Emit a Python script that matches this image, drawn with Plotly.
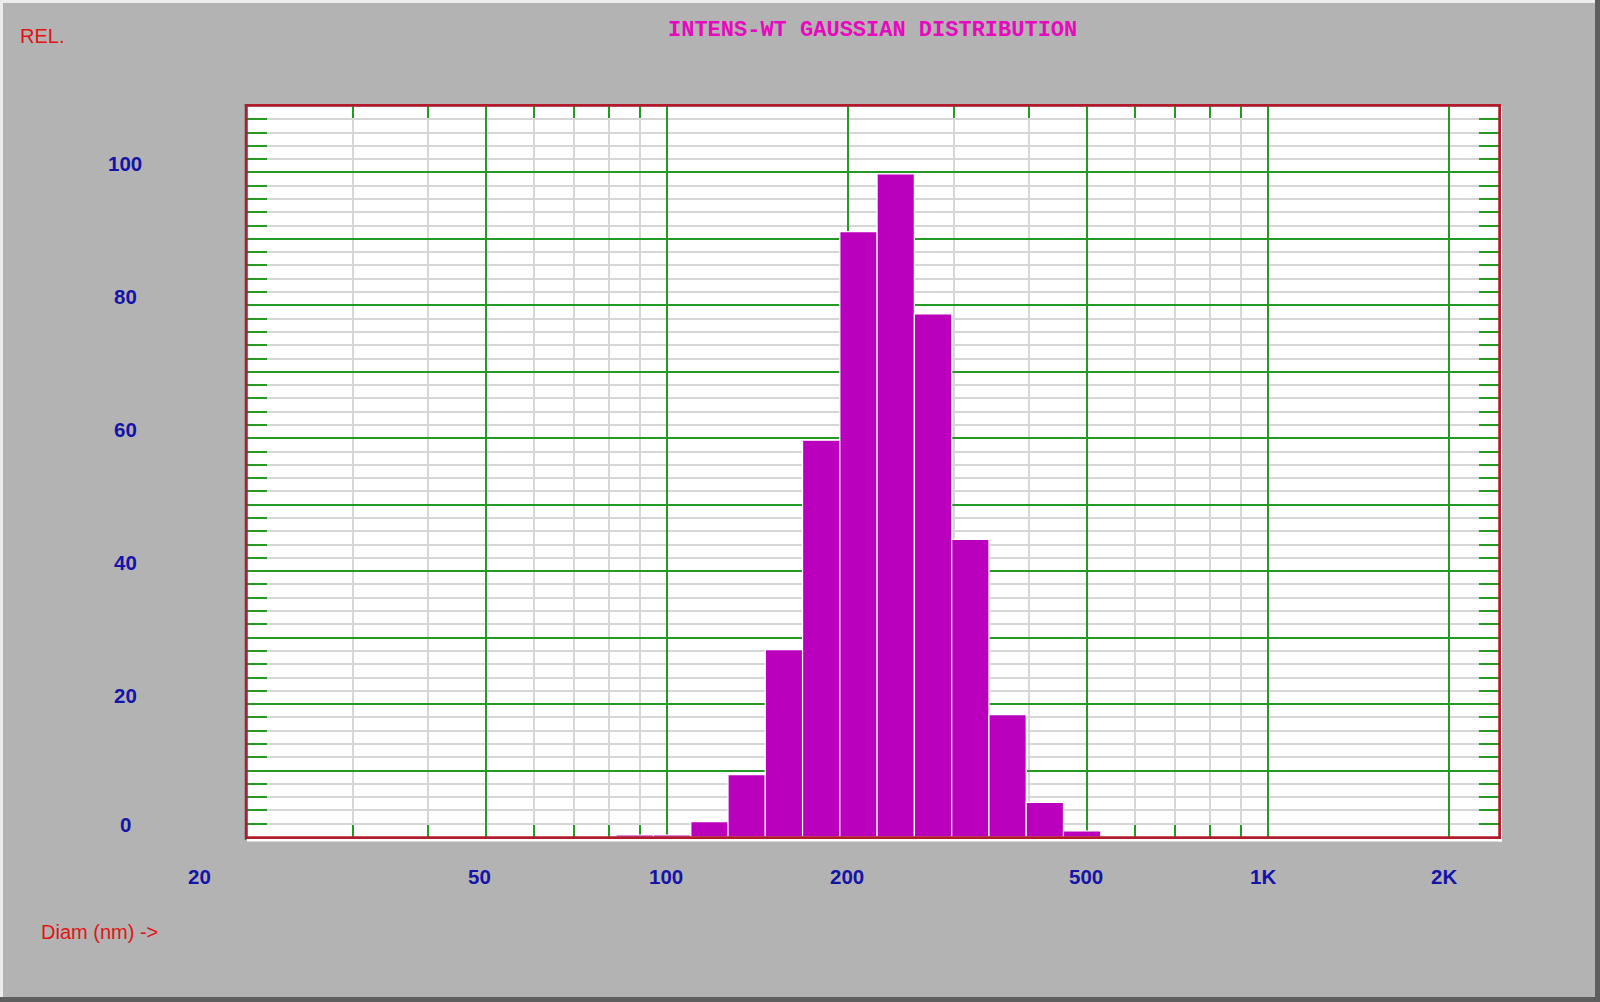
import numpy as np
import plotly.graph_objects as go

# bin centres (nm) and relative intensity
diam_nm = [88.3, 101.9, 117.6, 135.6, 156.4, 180.4, 208.1, 240.0,
           276.9, 319.4, 368.4, 424.9, 490.1]
rel_intensity = [0.3, 0.3, 2.3, 9.4, 28.2, 59.7, 91.1, 99.8,
                 78.7, 44.8, 18.4, 5.2, 0.9]

x_major = [50, 100, 200, 500, 1000, 2000]
x_minor = [30, 40, 60, 70, 80, 90, 300, 400, 600, 700, 800, 900]
x_label_vals = [20, 50, 100, 200, 500, 1000, 2000]
x_label_text = ["20", "50", "100", "200", "500", "1K", "2K"]
y_label_vals = [0, 20, 40, 60, 80, 100]

x_range = [20, 2420]
y_range = [0, 110]

# colours
BG = "#B3B3B3"
BAR = "#BA00BC"
GREEN = "#249A24"
GRAY = "#D6D6D6"
RED = "#B01C2C"
BLUE = "#1414A8"
TXT_RED = "#E01414"
MAGENTA = "#E60ABE"

W, H = 1600, 1002
L, R, T, B = 247, 101, 106, 165
pw, ph = W - L - R, H - T - B


def px(x):
    return (x - L) / pw


def py(y):
    return 1 - (y - T) / ph


logd = np.log10(diam_nm)
bin_w = np.diff(logd).mean()

fig = go.Figure()

fig.add_trace(
    go.Bar(
        x=logd,
        y=rel_intensity,
        width=bin_w,
        marker=dict(color=BAR, line=dict(color="white", width=1.2)),
        hoverinfo="skip",
        showlegend=False
    )
)

fig.update_xaxes(
    range=list(np.log10(x_range)),
    tickmode="array",
    tickvals=list(np.log10(x_major)),
    showticklabels=False,
    showgrid=True,
    gridcolor=GREEN,
    gridwidth=2,
    ticks="inside",
    ticklen=12,
    tickwidth=2,
    tickcolor=GREEN,
    minor=dict(
        tickmode="array",
        tickvals=list(np.log10(x_minor)),
        showgrid=True,
        gridcolor=GRAY,
        gridwidth=1.7,
        ticks="inside",
        ticklen=12,
        tickwidth=2,
        tickcolor=GREEN
    ),
    showline=True,
    linecolor=RED,
    linewidth=1.5,
    mirror="ticks",
    zeroline=False,
    layer="below traces"
)

fig.update_yaxes(
    range=y_range,
    tickmode="linear",
    tick0=0,
    dtick=10,
    showticklabels=False,
    showgrid=True,
    gridcolor=GREEN,
    gridwidth=2,
    ticks="inside",
    ticklen=20,
    tickwidth=2,
    tickcolor=GREEN,
    minor=dict(
        dtick=2,
        showgrid=True,
        gridcolor=GRAY,
        gridwidth=1.7,
        ticks="inside",
        ticklen=20,
        tickwidth=2,
        tickcolor=GREEN
    ),
    showline=True,
    linecolor=RED,
    linewidth=1.5,
    mirror="ticks",
    zeroline=False,
    layer="below traces"
)

# tick labels, placed the way the instrument software draws them
for v in y_label_vals:
    fig.add_annotation(
        x=px(125), xref="paper", y=v, yref="y",
        yshift=13 if v == 0 else 9,
        text=str(v), showarrow=False,
        xanchor="center", yanchor="middle",
        font=dict(family="Liberation Sans", size=20.5, color=BLUE, weight="bold")
    )

for v, t in zip(x_label_vals, x_label_text):
    fig.add_annotation(
        x=np.log10(v), xref="x", y=py(876), yref="paper",
        xshift=-61 if v == x_range[0] else -20,
        text=t, showarrow=False,
        xanchor="left", yanchor="middle",
        font=dict(family="Liberation Sans", size=20.5, color=BLUE, weight="bold")
    )

fig.add_annotation(
    x=px(872), y=py(30.5), xref="paper", yref="paper",
    text="INTENS-WT GAUSSIAN DISTRIBUTION", showarrow=False,
    xanchor="center", yanchor="middle",
    font=dict(family="Liberation Mono", size=22, color=MAGENTA, weight="bold")
)
fig.add_annotation(
    x=px(18), y=py(36), xref="paper", yref="paper",
    text="REL.", showarrow=False, xanchor="left", yanchor="middle",
    font=dict(family="Liberation Sans", size=20, color=TXT_RED)
)
fig.add_annotation(
    x=px(39), y=py(932), xref="paper", yref="paper",
    text="Diam (nm) ->", showarrow=False, xanchor="left", yanchor="middle",
    font=dict(family="Liberation Sans", size=20, color=TXT_RED)
)

# sunken frame round the plot area and raised frame round the window
frame = [
    (244.5, 1501, 104, 106.5, "#7C7C7C"),
    (244.5, 247, 104, 840, "#7C7C7C"),
    (1499, 1502, 106, 841.5, "white"),
    (247, 1502, 837.5, 841.5, "white"),
    (0, 1600, 0, 3, "#EDEDED"),
    (0, 3, 0, 1002, "#EDEDED"),
    (1595, 1600, 0, 1002, "#5E5E5E"),
    (0, 1600, 997, 1002, "#5E5E5E"),
]
for x0, x1, y0, y1, c in frame:
    fig.add_shape(
        type="rect", xref="paper", yref="paper",
        x0=px(x0), x1=px(x1), y0=py(y1), y1=py(y0),
        fillcolor=c, line=dict(width=0), layer="below"
    )

fig.add_shape(
    type="rect", xref="paper", yref="paper",
    x0=0, x1=1, y0=0, y1=1,
    line=dict(color=RED, width=1.5), layer="above"
)

fig.update_layout(
    width=W,
    height=H,
    margin=dict(l=L, r=R, t=T, b=B),
    paper_bgcolor=BG,
    plot_bgcolor="white",
    showlegend=False
)

fig.write_html(
    "out.html",
    config={"displayModeBar": False},
    post_script="document.body.style.margin='0px';"
)
